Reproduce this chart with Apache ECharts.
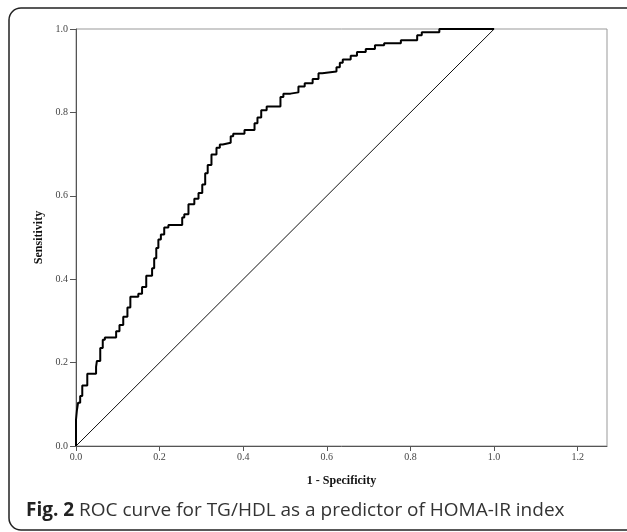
<!DOCTYPE html>
<html>
<head>
<meta charset="utf-8">
<script src="https://cdn.jsdelivr.net/npm/echarts@6/dist/echarts.min.js"></script>
<style>
  html, body { margin: 0; padding: 0; background: #fff; }
  #chart { width: 627px; height: 532px; }
</style>
</head>
<body>
<div id="chart"></div>
<script>
// ROC curve vertices: [1 - specificity, sensitivity]
var rocPoints = [
  [0, 0], [0.002, 0.063], [0.005, 0.084], [0.010, 0.104], [0.015, 0.120],
  [0.027, 0.145], [0.034, 0.173], [0.048, 0.173], [0.050, 0.190], [0.058, 0.204],
  [0.064, 0.235], [0.069, 0.255], [0.079, 0.260], [0.096, 0.260], [0.104, 0.275],
  [0.113, 0.290], [0.123, 0.310], [0.130, 0.332], [0.132, 0.358], [0.149, 0.358],
  [0.158, 0.365], [0.168, 0.381], [0.173, 0.408], [0.182, 0.408], [0.187, 0.426],
  [0.192, 0.450], [0.197, 0.475], [0.203, 0.495], [0.211, 0.507], [0.221, 0.524],
  [0.226, 0.530], [0.254, 0.530], [0.259, 0.548], [0.269, 0.556], [0.283, 0.580],
  [0.293, 0.593], [0.302, 0.607], [0.309, 0.627], [0.315, 0.654], [0.324, 0.674],
  [0.336, 0.699], [0.344, 0.715], [0.351, 0.723], [0.370, 0.727], [0.376, 0.743],
  [0.384, 0.749], [0.403, 0.749], [0.408, 0.758], [0.427, 0.758], [0.434, 0.774],
  [0.443, 0.788], [0.456, 0.805], [0.470, 0.814], [0.489, 0.814], [0.496, 0.837],
  [0.513, 0.845], [0.532, 0.848], [0.547, 0.862], [0.566, 0.870], [0.580, 0.880],
  [0.589, 0.894], [0.623, 0.898], [0.631, 0.908], [0.638, 0.919], [0.657, 0.927],
  [0.672, 0.936], [0.693, 0.945], [0.715, 0.952], [0.737, 0.961], [0.777, 0.966],
  [0.816, 0.973], [0.827, 0.985], [0.869, 0.992], [0.940, 1.000], [1.000, 1.000]
];
// reference line
var diagonal = [[0, 0], [1, 1]];
var xTicks = [0, 0.2, 0.4, 0.6, 0.8, 1.0, 1.2];
var yTicks = [0, 0.2, 0.4, 0.6, 0.8, 1.0];
var xTitle = '1 - Specificity';
var yTitle = 'Sensitivity';
var caption = 'ROC curve for TG/HDL as a predictor of HOMA-IR index';

var chart = echarts.init(document.getElementById('chart'), null, { renderer: 'canvas' });

var tickFont = {
  fontFamily: 'Liberation Serif',
  fontSize: 10,
  color: '#444',
  formatter: function (v) { return v.toFixed(1); }
};

chart.setOption({
  animation: false,
  backgroundColor: '#fff',
  grid: {
    left: 76, top: 29, width: 531, height: 417,
    show: true, borderColor: '#999', borderWidth: 1
  },
  xAxis: {
    type: 'value',
    min: 0, max: 1.27,
    name: xTitle,
    nameLocation: 'middle',
    nameGap: 29,
    nameTextStyle: { fontFamily: 'Liberation Serif', fontWeight: 'bold', fontSize: 12, color: '#111' },
    axisLine: { show: true, lineStyle: { color: '#555', width: 1 } },
    axisTick: { show: true, length: 5, customValues: xTicks, lineStyle: { color: '#555' } },
    axisLabel: Object.assign({ margin: 6, customValues: xTicks }, tickFont),
    splitLine: { show: false }
  },
  yAxis: {
    type: 'value',
    min: 0, max: 1,
    name: yTitle,
    nameLocation: 'middle',
    nameGap: 30,
    nameTextStyle: { fontFamily: 'Liberation Serif', fontWeight: 'bold', fontSize: 12, color: '#111' },
    axisLine: { show: true, lineStyle: { color: '#555', width: 1 } },
    axisTick: { show: true, length: 6, customValues: yTicks, lineStyle: { color: '#555' } },
    axisLabel: Object.assign({ margin: 8, customValues: yTicks }, tickFont),
    splitLine: { show: false }
  },
  series: [
    {
      type: 'line',
      data: diagonal,
      symbol: 'none',
      lineStyle: { color: '#111', width: 1 },
      z: 2
    },
    {
      type: 'line',
      data: rocPoints,
      step: 'start',
      symbol: 'none',
      lineStyle: { color: '#000', width: 2 },
      z: 3
    }
  ],
  graphic: [
    {
      type: 'rect',
      shape: { x: 9, y: 8, width: 640, height: 522, r: 12 },
      style: { fill: 'none', stroke: '#222', lineWidth: 1.5 },
      z: 10
    },
    {
      type: 'text',
      left: 26, top: 501,
      style: {
        text: '{b|Fig. 2} ' + caption,
        fontFamily: 'Open Sans',
        fontSize: 19,
        fill: '#333',
        rich: {
          b: { fontFamily: 'Open Sans', fontSize: 19, fontWeight: 'bold', fill: '#222' }
        }
      },
      z: 10
    }
  ]
});

window.addEventListener('resize', function () {
  chart.resize();
});
</script>
</body>
</html>
